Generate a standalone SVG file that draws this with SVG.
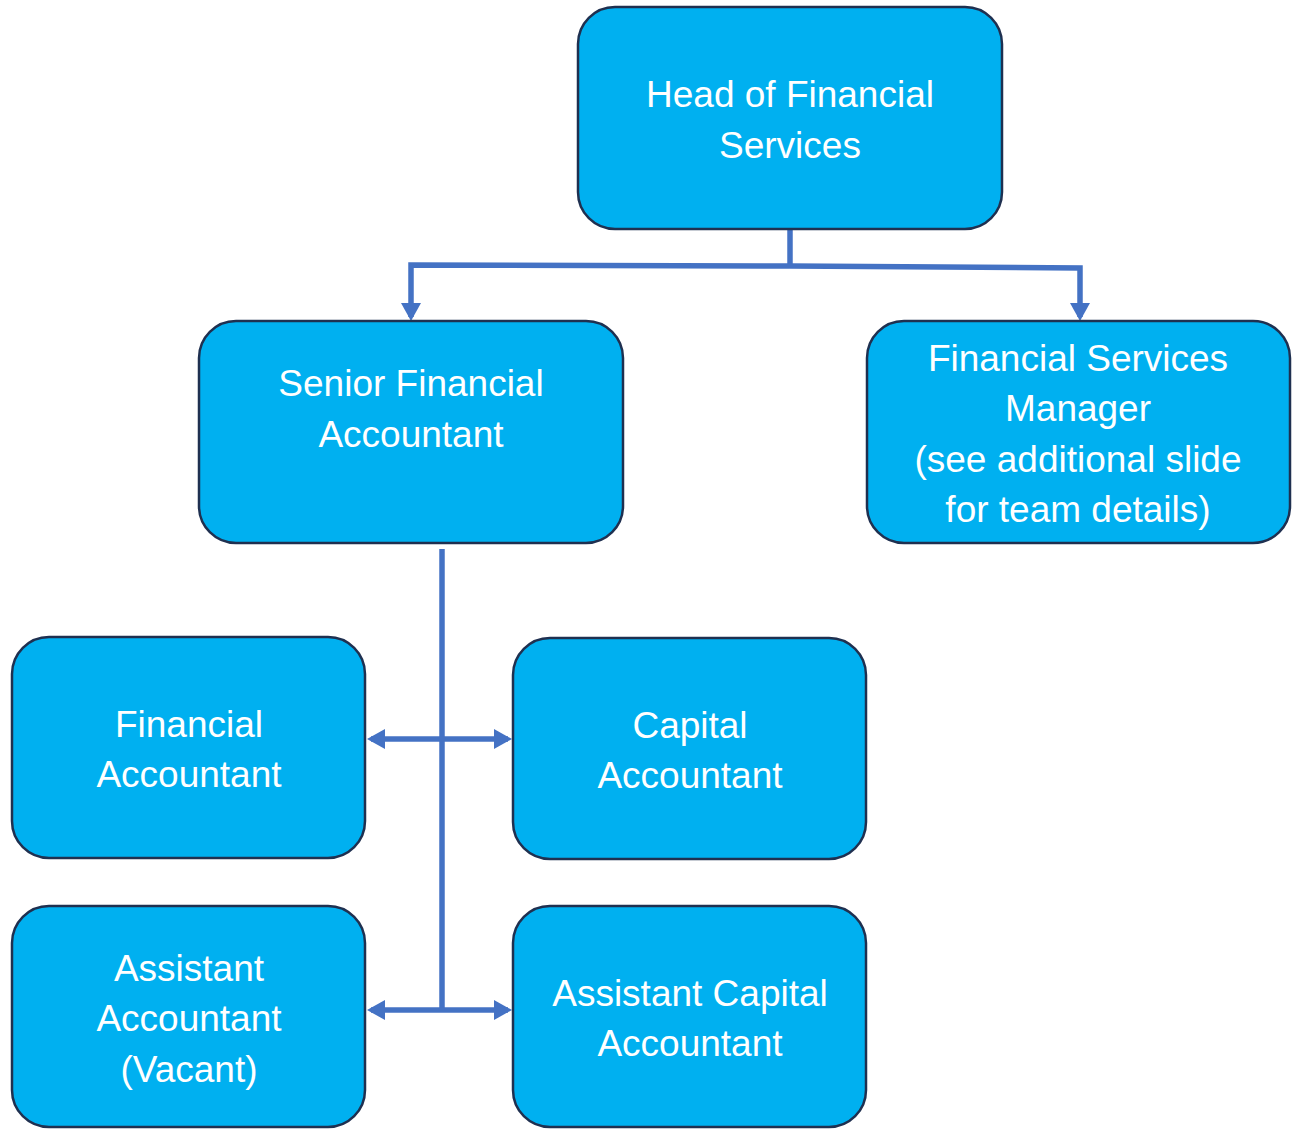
<svg xmlns="http://www.w3.org/2000/svg" width="1293" height="1131" viewBox="0 0 1293 1131">
<style>
.box{fill:#00B0F0;stroke:#1F3050;stroke-width:2.5}
.t{font-family:"Liberation Sans",Arial,sans-serif;font-size:37px;fill:#fff;text-anchor:middle}
.c{fill:none;stroke:#4472C4;stroke-width:5.5}
</style>
<defs>
<marker id="ah" markerWidth="18" markerHeight="20" refX="14" refY="10" orient="auto" markerUnits="userSpaceOnUse">
<path d="M0,0 L18,10 L0,20 Z" fill="#4472C4"/>
</marker>
</defs>
<g id="connectors">
<path class="c" d="M790,229 V266"/>
<path class="c" d="M790,266 L411,265 V317" marker-end="url(#ah)"/>
<path class="c" d="M790,266 L1080,268 V317" marker-end="url(#ah)"/>
<path class="c" d="M442,549 V1012"/>
<path class="c" d="M442,739 H371" marker-end="url(#ah)"/>
<path class="c" d="M442,739 H508" marker-end="url(#ah)"/>
<path class="c" d="M442,1010 H371" marker-end="url(#ah)"/>
<path class="c" d="M442,1010 H508" marker-end="url(#ah)"/>
</g>
<g id="head">
<rect class="box" x="578" y="7" width="424" height="222" rx="37"/>
<text class="t" x="790" y="107">Head of Financial</text>
<text class="t" x="790" y="158">Services</text>
</g>
<g id="senior">
<rect class="box" x="199" y="321" width="424" height="222" rx="37"/>
<text class="t" x="411" y="396">Senior Financial</text>
<text class="t" x="411" y="447">Accountant</text>
</g>
<g id="fsm">
<rect class="box" x="867" y="321" width="423" height="222" rx="37"/>
<text class="t" x="1078" y="371">Financial Services</text>
<text class="t" x="1078" y="421">Manager</text>
<text class="t" x="1078" y="472">(see additional slide</text>
<text class="t" x="1078" y="522">for team details)</text>
</g>
<g id="financial">
<rect class="box" x="12" y="637" width="353" height="221" rx="37"/>
<text class="t" x="189" y="737">Financial</text>
<text class="t" x="189" y="787">Accountant</text>
</g>
<g id="capital">
<rect class="box" x="513" y="638" width="353" height="221" rx="37"/>
<text class="t" x="690" y="738">Capital</text>
<text class="t" x="690" y="788">Accountant</text>
</g>
<g id="assistant">
<rect class="box" x="12" y="906" width="353" height="221" rx="37"/>
<text class="t" x="189" y="981">Assistant</text>
<text class="t" x="189" y="1031">Accountant</text>
<text class="t" x="189" y="1082">(Vacant)</text>
</g>
<g id="assistantcapital">
<rect class="box" x="513" y="906" width="353" height="221" rx="37"/>
<text class="t" x="690" y="1006">Assistant Capital</text>
<text class="t" x="690" y="1056">Accountant</text>
</g>
</svg>
